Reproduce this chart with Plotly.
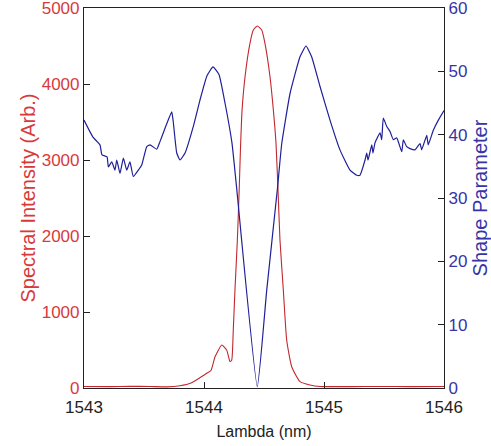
import plotly.graph_objects as go

# Spectral intensity (red, left axis)
red_nm = [1543.000, 1543.217, 1543.383, 1543.550, 1543.692, 1543.800, 1543.892, 1543.975,
          1544.023, 1544.058, 1544.092, 1544.148, 1544.189, 1544.217, 1544.231, 1544.244,
          1544.258, 1544.278, 1544.292, 1544.304, 1544.317, 1544.342, 1544.383, 1544.411,
          1544.444, 1544.481, 1544.508, 1544.550, 1544.578, 1544.600, 1544.619, 1544.633,
          1544.661, 1544.689, 1544.731, 1544.800, 1544.883, 1544.967, 1545.217, 1545.467,
          1545.717, 1546.000]
red_int = [20, 18, 22, 20, 15, 30, 66, 145,
           193, 230, 410, 566, 500, 346, 368, 763,
           1290, 1947, 2550, 3150, 3650, 4096, 4535, 4710,
           4763, 4710, 4535, 4096, 3658, 3220, 2517, 1947,
           1290, 632, 280, 83, 40, 20, 18, 20,
           18, 20]

# Shape parameter (blue, right axis)
blue_nm = [1543.000, 1543.075, 1543.133, 1543.150, 1543.192, 1543.203, 1543.231, 1543.258,
           1543.273, 1543.300, 1543.328, 1543.356, 1543.383, 1543.411, 1543.453, 1543.481,
           1543.523, 1543.550, 1543.606, 1543.633, 1543.675, 1543.731, 1543.744, 1543.773,
           1543.800, 1543.842, 1543.911, 1543.967, 1544.025, 1544.075, 1544.125, 1544.175,
           1544.233, 1544.271, 1544.444, 1544.523, 1544.611, 1544.648, 1544.717, 1544.800,
           1544.850, 1544.897, 1544.967, 1545.050, 1545.133, 1545.217, 1545.273, 1545.300,
           1545.342, 1545.356, 1545.367, 1545.398, 1545.408, 1545.425, 1545.467, 1545.481,
           1545.494, 1545.523, 1545.550, 1545.578, 1545.606, 1545.648, 1545.661, 1545.689,
           1545.717, 1545.758, 1545.800, 1545.814, 1545.856, 1545.869, 1545.911, 1545.953,
           1546.000]
blue_val = [42.3, 39.6, 38.4, 36.8, 36.5, 34.9, 35.7, 34.4,
            36.0, 33.9, 36.3, 34.4, 35.7, 33.4, 34.4, 35.2,
            38.1, 38.4, 37.7, 38.9, 41.0, 43.6, 42.0, 37.1,
            36.0, 37.1, 41.3, 45.5, 49.3, 50.7, 49.5, 45.0,
            38.7, 31.8, 0.2, 15.5, 31.3, 38.6, 46.5, 52.3,
            54.0, 52.3, 47.6, 42.3, 37.6, 34.4, 33.6, 33.6,
            36.0, 37.1, 36.0, 38.4, 37.1, 38.7, 40.3, 39.2,
            42.6, 41.3, 40.5, 39.2, 39.5, 37.3, 39.2, 38.1,
            37.8, 37.6, 38.6, 37.6, 39.9, 38.4, 40.7, 42.3,
            43.8]

x_ticks = [1543, 1544, 1545, 1546]
y1_ticks = [0, 1000, 2000, 3000, 4000, 5000]
y2_ticks = [0, 10, 20, 30, 40, 50, 60]

RED = "#c0282d"
BLUE = "#1f1f99"
RED_TXT = "#d83a3a"
BLUE_TXT = "#3535a8"
FONT = "Liberation Sans, Arial, sans-serif"

fig = go.Figure()
fig.add_trace(go.Scatter(x=red_nm, y=red_int, mode="lines",
                         line=dict(color=RED, width=1.1, shape="spline", smoothing=0.5),
                         showlegend=False))
fig.add_trace(go.Scatter(x=blue_nm, y=blue_val, mode="lines", yaxis="y2",
                         line=dict(color=BLUE, width=1.2, shape="spline", smoothing=0.4),
                         showlegend=False))

fig.update_layout(
    width=491, height=446,
    margin=dict(l=84, r=47, t=8, b=58),
    paper_bgcolor="white", plot_bgcolor="white",
    font=dict(family=FONT, size=16, color="#222"),
    xaxis=dict(range=[1543, 1546], tickvals=x_ticks, ticks="inside", ticklen=6,
               tickcolor="#222", showline=True, linecolor="#222", linewidth=1.2,
               mirror=True, showgrid=False, zeroline=False, ticklabelstandoff=3,
               ticklabeloverflow="allow", automargin=False,
               tickfont=dict(size=17, color="#222"),
               title=dict(text="Lambda (nm)", font=dict(size=16, color="#222"), standoff=10)),
    yaxis=dict(range=[0, 5000], tickvals=y1_ticks, ticks="inside", ticklen=6,
               tickcolor="#222", showline=True, linecolor="#222", linewidth=1.2,
               showgrid=False, zeroline=False, ticklabeloverflow="allow", automargin=False,
               tickfont=dict(size=17, color=RED_TXT),
               title=dict(text="Spectral Intensity (Arb.)",
                          font=dict(size=20, color=RED_TXT), standoff=0)),
    yaxis2=dict(range=[0, 60], tickvals=y2_ticks, ticks="inside", ticklen=6,
                tickcolor="#222", overlaying="y", side="right",
                showline=True, linecolor="#222", linewidth=1.2,
                showgrid=False, zeroline=False, ticklabeloverflow="allow", automargin=False,
                tickfont=dict(size=17, color=BLUE_TXT),
                title=dict(text="Shape Parameter",
                           font=dict(size=20, color=BLUE_TXT), standoff=6)),
)

fig.write_html("out.html")
